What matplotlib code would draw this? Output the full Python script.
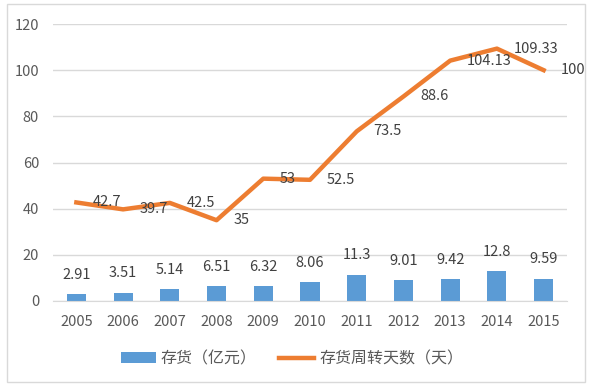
import matplotlib
matplotlib.use('Agg')
import matplotlib.pyplot as plt
import matplotlib.patches as mpatches
import numpy as np

plt.rcParams['font.family'] = ['Noto Sans CJK SC', 'DejaVu Sans']

years = ['2005', '2006', '2007', '2008', '2009', '2010', '2011', '2012', '2013', '2014', '2015']
inventory = [2.91, 3.51, 5.14, 6.51, 6.32, 8.06, 11.3, 9.01, 9.42, 12.8, 9.59]
turnover_days = [42.7, 39.7, 42.5, 35, 53, 52.5, 73.5, 88.6, 104.13, 109.33, 100]
inventory_labels = ['2.91', '3.51', '5.14', '6.51', '6.32', '8.06', '11.3', '9.01', '9.42', '12.8', '9.59']
days_labels = ['42.7', '39.7', '42.5', '35', '53', '52.5', '73.5', '88.6', '104.13', '109.33', '100']

BLUE = '#5B9BD5'
ORANGE = '#ED7D31'
TEXT = '#595959'
GRID = '#D9D9D9'

fig = plt.figure(figsize=(5.91, 3.89), dpi=100)
fig.patches.append(mpatches.Rectangle((7 / 591, 1 - 382 / 389), 578 / 591, 378 / 389,
                                      transform=fig.transFigure, fill=False,
                                      edgecolor='#D9D9D9', linewidth=1))
ax = fig.add_axes([53 / 591, 1 - 301 / 389, 514 / 591, 277 / 389])

x = np.arange(len(years))
bars = ax.bar(x, inventory, width=0.41, color=BLUE, zorder=2, label='存货（亿元）')
line, = ax.plot(x, turnover_days, color=ORANGE, linewidth=3.2, zorder=3,
                solid_joinstyle='round', label='存货周转天数（天）')

for xi, v, s in zip(x, inventory, inventory_labels):
    ax.annotate(s, (xi, v), xytext=(0, 14), textcoords='offset points',
                ha='center', va='center', fontsize=10.5, color='#404040')
for xi, v, s in zip(x, turnover_days, days_labels):
    ax.annotate(s, (xi, v), xytext=(12, 0), textcoords='offset points',
                ha='left', va='center', fontsize=10.5, color='#404040')

ax.set_xlim(-0.5, len(years) - 0.5)
ax.set_ylim(0, 120)
ax.set_yticks([0, 20, 40, 60, 80, 100, 120])
ax.set_xticks(x)
ax.set_xticklabels(years)
ax.grid(axis='y', color=GRID, linewidth=1, zorder=0)
ax.tick_params(axis='both', length=0, labelsize=10.5, labelcolor=TEXT)
ax.tick_params(axis='y', pad=10)
ax.tick_params(axis='x', pad=10)
for sp in ['top', 'right', 'left']:
    ax.spines[sp].set_visible(False)
ax.spines['bottom'].set_color(GRID)

fig.legend(handles=[bars, line], loc='center', bbox_to_anchor=(0.494, 0.078),
           ncol=2, frameon=False, fontsize=11.5, labelcolor=TEXT,
           handlelength=2.2, columnspacing=1.4, handletextpad=0.3)

fig.savefig('out.png', dpi=100)
